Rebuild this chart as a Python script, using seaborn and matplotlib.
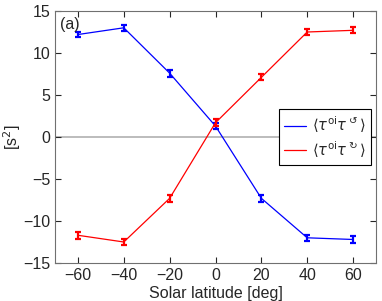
import numpy as np
import pandas as pd
import matplotlib
matplotlib.use("Agg")
import matplotlib.pyplot as plt
import seaborn as sns

latitude = [-60, -40, -20, 0, 20, 40, 60]
tau_ccw = [12.2, 13.0, 7.6, 1.3, -7.3, -12.0, -12.2]
tau_cw = [-11.7, -12.5, -7.3, 1.7, 7.1, 12.5, 12.7]
err_ccw = [0.35, 0.35, 0.4, 0.4, 0.4, 0.35, 0.4]
err_cw = [0.4, 0.4, 0.4, 0.4, 0.35, 0.35, 0.35]

sns.set_style("white")
plt.rcParams["font.family"] = ["Liberation Sans", "DejaVu Sans"]
plt.rcParams["mathtext.fontset"] = "dejavusans"

fig = plt.figure(figsize=(3.82, 3.01), dpi=100)
ax = fig.add_axes([55 / 382, 1 - 263 / 301, 321 / 382, 252 / 301])

ax.axhline(0, color="#b0b0b0", lw=1.2, zorder=0)

series = [
    (tau_ccw, err_ccw, "blue", r"$\langle\tau^{\mathrm{oi}}\tau^{\circlearrowleft}\rangle$"),
    (tau_cw, err_cw, "red", r"$\langle\tau^{\mathrm{oi}}\tau^{\circlearrowright}\rangle$"),
]
for vals, errs, col, lab in series:
    df = pd.DataFrame({"lat": latitude, "val": vals})
    sns.lineplot(data=df, x="lat", y="val", color=col, lw=0.9, ax=ax, label=lab)
    ax.errorbar(latitude, vals, yerr=errs, fmt="none", ecolor=col,
                elinewidth=1.6, capsize=2.5, capthick=1.6)

ax.set_xlim(-70, 70)
ax.set_ylim(-15, 15)
ax.set_xticks(np.arange(-60, 61, 20))
ax.set_yticks(np.arange(-15, 16, 5))
ax.set_xticklabels([f"\u2212{abs(v)}" if v < 0 else str(v) for v in range(-60, 61, 20)])
ax.set_yticklabels([f"\u2212{abs(v)}" if v < 0 else str(v) for v in range(-15, 16, 5)])
ax.tick_params(direction="in", length=4, labelsize=11.5, width=0.8, top=True, right=True,
               labeltop=False, labelright=False)
ax.tick_params(axis="both", which="both", bottom=True, left=True)
for s in ax.spines.values():
    s.set_color("#707070")
    s.set_linewidth(0.8)
ax.set_xlabel("Solar latitude [deg]", fontsize=11.5, labelpad=2)
ax.set_ylabel("[s$^2$]", fontsize=11.5, labelpad=0)
ax.text(0.015, 0.975, "(a)", transform=ax.transAxes, fontsize=11.5, va="top", ha="left")

leg = ax.legend(loc="center right", bbox_to_anchor=(0.983, 0.5), fontsize=10.5,
                frameon=True, fancybox=False, edgecolor="black", framealpha=1,
                handlelength=1.5, handletextpad=0.4, borderpad=0.35,
                labelspacing=0.25, borderaxespad=0)
leg.get_frame().set_linewidth(0.8)

fig.savefig("out.png", dpi=100)
